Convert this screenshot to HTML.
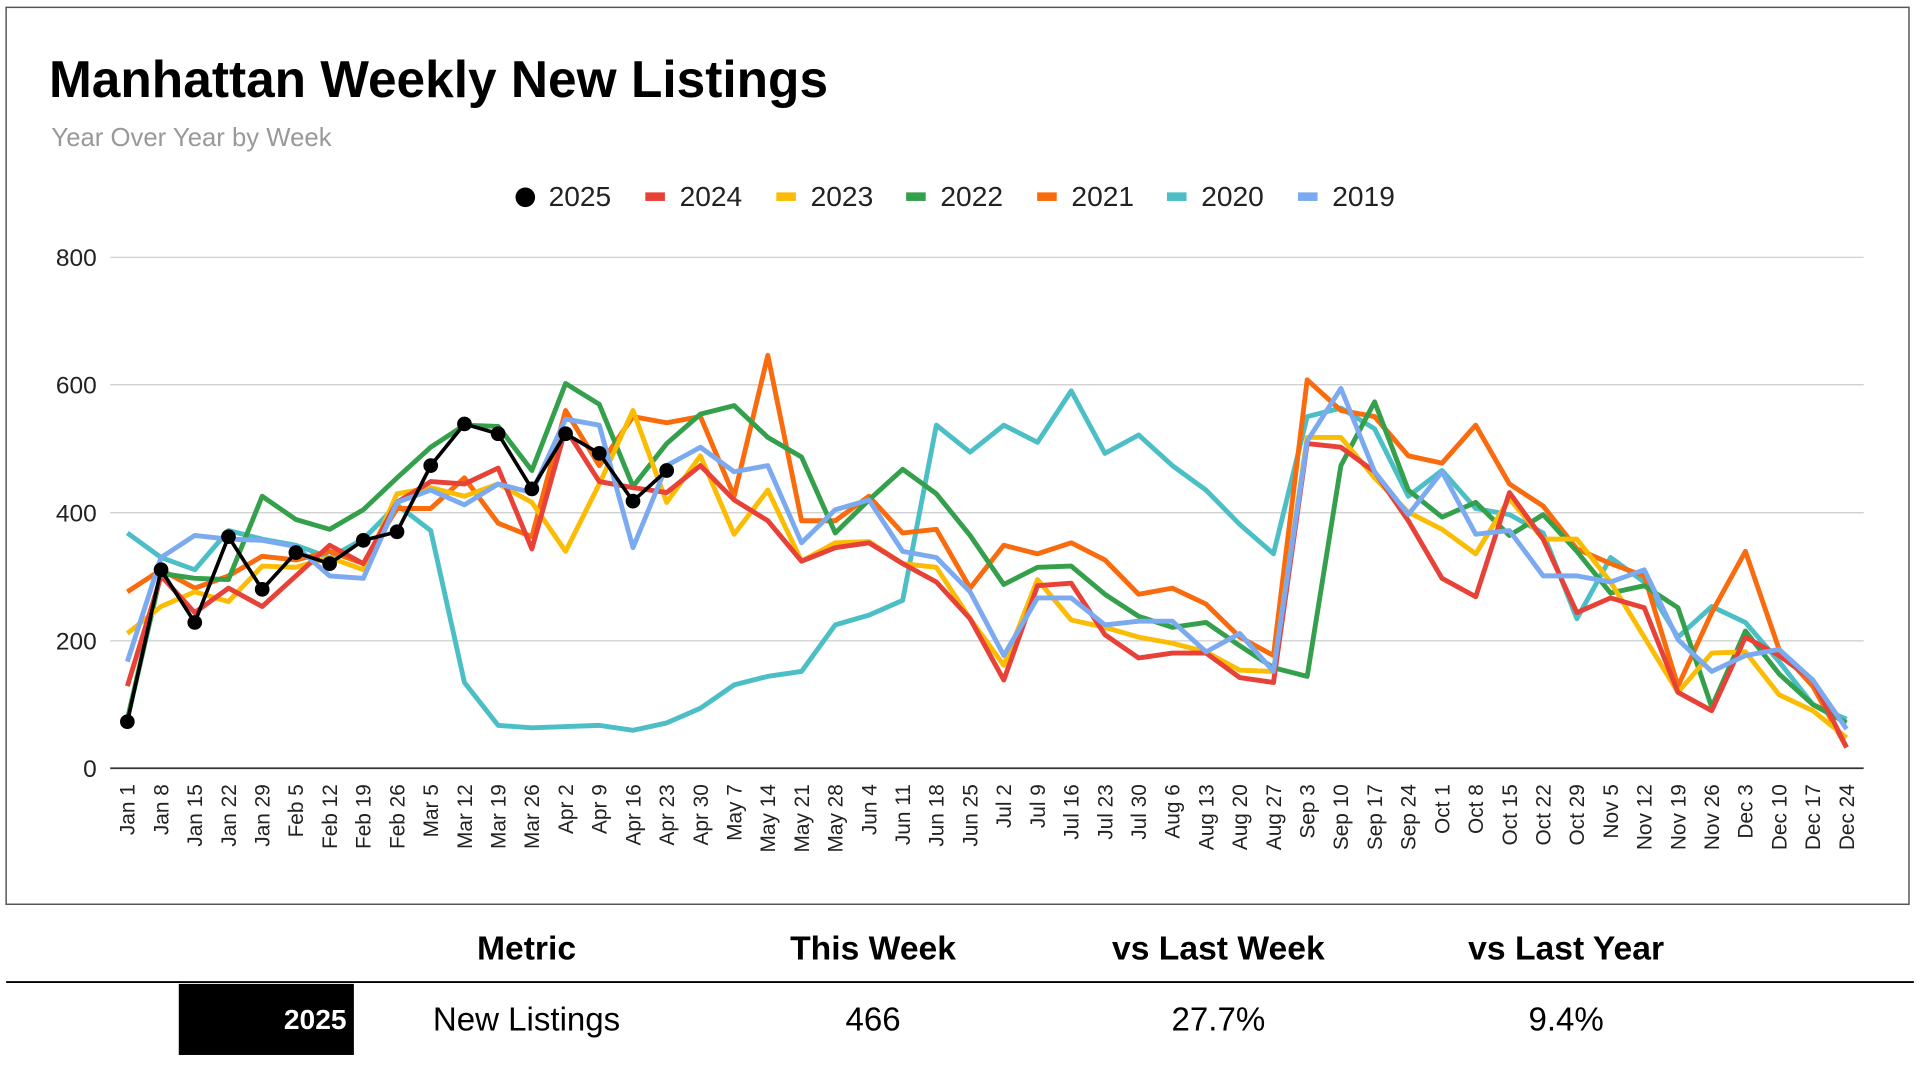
<!DOCTYPE html>
<html><head><meta charset="utf-8"><style>
html,body{margin:0;padding:0;background:#fff;}
svg{display:block;font-family:"Liberation Sans",Arial,sans-serif;}
</style></head><body>
<svg id="s" width="1920" height="1066" viewBox="0 0 1568 870" preserveAspectRatio="none" xmlns="http://www.w3.org/2000/svg">
<rect x="5" y="6" width="1554" height="732" fill="#fff" stroke="#555" stroke-width="1.2"/>
<text x="40" y="79" font-size="42" font-weight="bold" fill="#000">Manhattan Weekly New Listings</text>
<text x="42" y="119" font-size="21" fill="#999">Year Over Year by Week</text>
<g id="g"></g>
<g font-size="27">
<text x="430" y="783" text-anchor="middle" font-weight="bold" font-size="27.5">Metric</text>
<text x="713" y="783" text-anchor="middle" font-weight="bold" font-size="27.5">This Week</text>
<text x="995" y="783" text-anchor="middle" font-weight="bold" font-size="27.5">vs Last Week</text>
<text x="1279" y="783" text-anchor="middle" font-weight="bold" font-size="27.5">vs Last Year</text>
<line x1="5" y1="801.5" x2="1563" y2="801.5" stroke="#000" stroke-width="1.5"/>
<rect x="146" y="803" width="143" height="58" fill="#000"/>
<text x="283" y="840" text-anchor="end" font-weight="bold" fill="#fff" font-size="23">2025</text>
<text x="430" y="841" text-anchor="middle">New Listings</text>
<text x="713" y="841" text-anchor="middle">466</text>
<text x="995" y="841" text-anchor="middle">27.7%</text>
<text x="1279" y="841" text-anchor="middle">9.4%</text>
</g>
</svg>
<script>
const g=document.getElementById('g');
let h='';
const labels=["Jan 1","Jan 8","Jan 15","Jan 22","Jan 29","Feb 5","Feb 12","Feb 19","Feb 26","Mar 5","Mar 12","Mar 19","Mar 26","Apr 2","Apr 9","Apr 16","Apr 23","Apr 30","May 7","May 14","May 21","May 28","Jun 4","Jun 11","Jun 18","Jun 25","Jul 2","Jul 9","Jul 16","Jul 23","Jul 30","Aug 6","Aug 13","Aug 20","Aug 27","Sep 3","Sep 10","Sep 17","Sep 24","Oct 1","Oct 8","Oct 15","Oct 22","Oct 29","Nov 5","Nov 12","Nov 19","Nov 26","Dec 3","Dec 10","Dec 17","Dec 24"];
const X=i=>104+i*(1404/51);
[[800,210],[600,314],[400,418.5],[200,523],[0,627]].forEach(([v,y])=>{
 h+=`<line x1="90" y1="${y}" x2="1522" y2="${y}" stroke="${v==0?'#333':'#ccc'}" stroke-width="${v==0?1.5:1}"/>`;
 h+=`<text x="79" y="${y+7}" font-size="20" text-anchor="end" fill="#222">${v}</text>`;
});
labels.forEach((l,i)=>{h+=`<text transform="translate(${X(i)+6},640) rotate(-90)" font-size="17" text-anchor="end" fill="#222">${l}</text>`;});
const S={
r2020:["#4bbfc5",[435,455,465,433,440,445,455,440,412,433,557,592,594,593,592,596,590,578,559,552,548,510,502,490,347,369,347,361,319,370,355,380,400,428,452,340,333,350,405,384,415,420,435,505,455,475,520,495,508,540,575,587]],
r2021:["#f96b0c",[483,465,480,470,454,457,450,460,415,415,390,427,438,335,380,340,345,340,405,290,425,425,405,435,432,480,445,452,443,457,485,480,493,520,535,310,335,340,372,378,347,395,413,448,460,470,560,500,450,530,560,610]],
r2022:["#34a04b",[587,468,472,473,405,424,432,416,390,365,347,348,384,313,330,397,362,338,331,357,373,435,408,383,403,437,477,463,462,485,503,512,508,527,545,552,380,328,400,422,410,437,420,450,484,478,496,577,515,550,575,590]],
r2023:["#fbbc04",[517,495,483,491,462,463,455,465,403,398,405,395,410,450,395,335,410,372,436,400,458,443,442,460,463,505,543,473,506,512,520,525,532,547,548,357,357,390,418,432,452,407,440,440,475,520,565,533,532,567,580,602]],
r2024:["#e84138",[560,470,500,480,495,470,445,460,410,393,395,382,448,350,393,398,402,380,408,425,458,447,443,460,475,505,555,478,476,518,537,533,533,553,557,362,365,385,425,472,487,402,440,500,488,496,565,580,520,535,555,610]],
r2019:["#7baaf0",[540,455,437,440,441,446,470,472,410,400,412,395,402,342,347,447,380,365,385,380,443,416,408,450,455,483,535,488,488,510,507,507,532,517,548,360,317,385,420,385,436,433,470,470,475,465,522,548,535,530,555,595]]
};
for(const k in S){const [c,d]=S[k];h+=`<polyline fill="none" stroke="${c}" stroke-width="4" stroke-linejoin="round" points="${d.map((y,i)=>X(i)+','+y).join(' ')}"/>`;}
const b=[589,465,508,438,481,451,460,441,434,380,346,354,399,354,370,409,384];
h+=`<polyline fill="none" stroke="#000" stroke-width="3" points="${b.map((y,i)=>X(i)+','+y).join(' ')}"/>`;
b.forEach((y,i)=>h+=`<circle cx="${X(i)}" cy="${y}" r="6" fill="#000"/>`);
const L=[["2025","#000",420],["2024","#e84138",527],["2023","#fbbc04",634],["2022","#34a04b",740],["2021","#f96b0c",847],["2020","#4bbfc5",953],["2019","#7baaf0",1060]];
L.forEach(([t,c,x],i)=>{
 if(i==0)h+=`<circle cx="${x+9}" cy="161" r="8" fill="#000"/>`;
 else h+=`<rect x="${x}" y="157" width="16" height="7" fill="${c}"/>`;
 h+=`<text x="${x+28}" y="168" font-size="23" fill="#222">${t}</text>`;
});
g.innerHTML=h;
</script>
</body></html>
